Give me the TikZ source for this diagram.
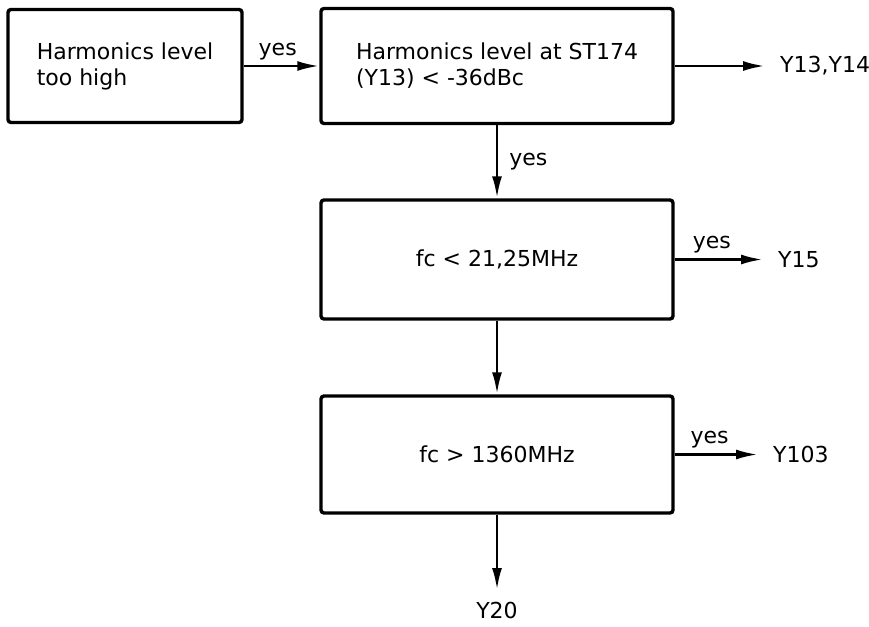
\documentclass[tikz,border=0pt]{standalone}
\usepackage{fontspec}
\setmainfont{DejaVu Sans}
\usetikzlibrary{arrows.meta, positioning}
\newcommand{\lettr}{\fontsize{22}{26}\selectfont}

\begin{document}
\begin{tikzpicture}[x=1pt, y=-1pt,
  box/.style={draw=black, line width=3.4pt, rounded corners=3pt, align=left, font=\lettr,
              minimum width=352pt, minimum height=117pt, inner sep=0pt, fill=white},
  lbl/.style={font=\lettr, inner sep=3pt},
  outtxt/.style={font=\lettr, inner xsep=15pt, inner ysep=2pt},
  ar/.style={-{Latex[length=22pt, width=10pt]}, line width=2.8pt}]
\useasboundingbox (0,0) rectangle (869,626);
\node[box, minimum width=234pt, minimum height=113pt] (hl) at (125,66) {Harmonics level\\too high};
\node[box, minimum height=115pt] (st) at (497,66) {Harmonics level at ST174\\(Y13) < -36dBc};
\node[box, minimum height=119pt] (lo) at (497,259.5) {fc < 21,25MHz};
\node[box] (hi) at (497,454.5) {fc > 1360MHz};
\node[outtxt, anchor=west] (o1) at (765,66) {Y13,Y14};
\node[outtxt, anchor=west] (o2) at (763,259.5) {Y15};
\node[outtxt, anchor=west] (o3) at (758,454.5) {Y103};
\node[outtxt, anchor=north, inner ysep=12pt] (o4) at (497,590) {Y20};
\draw[ar] (hl) -- node[lbl, above=2pt, pos=0.45] {yes} (st);
\draw[ar] (st) -- (o1);
\draw[ar] (st) -- node[lbl, right=8pt] {yes} (lo);
\draw[ar] (lo) -- node[lbl, above=2pt, pos=0.42] {yes} (o2);
\draw[ar] (lo) -- (hi);
\draw[ar] (hi) -- node[lbl, above=2pt, pos=0.42] {yes} (o3);
\draw[ar] (hi) -- (o4);
\end{tikzpicture}
\end{document}
